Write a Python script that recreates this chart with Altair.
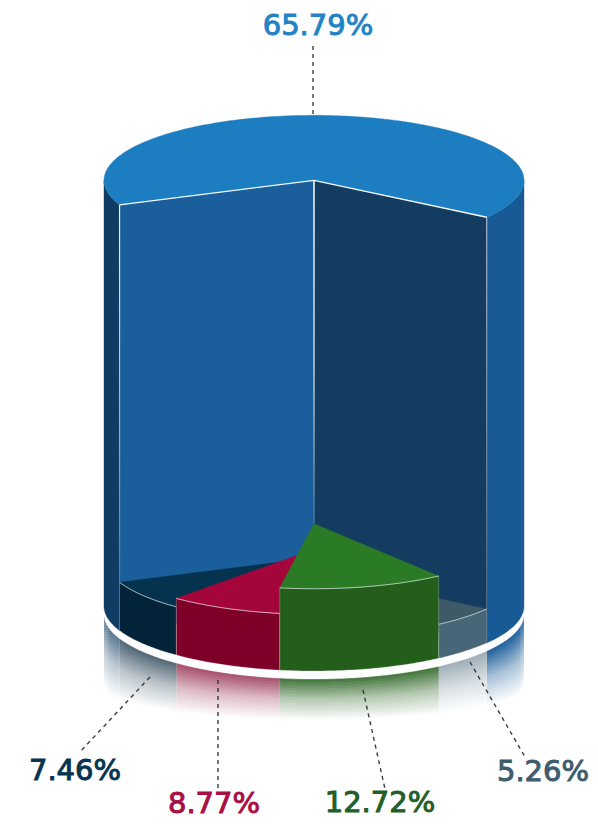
import math
import altair as alt
import pandas as pd

# ---- chart data, clockwise from the tall slice
labels = ["65.79%", "5.26%", "12.72%", "8.77%", "7.46%"]
values = [65.79, 5.26, 12.72, 8.77, 7.46]
top_colors = ["#1c7dc0", "#3f5a67", "#2b7a26", "#a4063c", "#04334f"]
side_colors = ["#175a96", "#476678", "#235e1b", "#7e0029", "#032338"]
text_colors = ["#2383c5", "#3e5c70", "#235e27", "#a80f45", "#053550"]

# ---- annotation layout (picture pixels)
label_x = [318, 543, 380, 214, 75]
label_y = [26, 772, 803, 804, 771]
leader_x0 = [313, 470, 363, 218, 150]
leader_y0 = [114, 662, 690, 680, 677]
leader_x1 = [313, 525, 385, 218, 79]
leader_y1 = [44, 757, 789, 790, 753]

CX, RX, RY, BASE = 314, 210, 65, 606
DEPTH_PER_PCT = 6.47
START = -112.2
DEG_PER_PCT = 3.6
BANDS = 28
X_SCALE = alt.Scale(domain=[8, 590], nice=False, zero=False)
Y_SCALE = alt.Scale(domain=[822, 8], nice=False, zero=False)
XE = alt.X("x:Q", scale=X_SCALE, axis=None)
YE = alt.Y("y:Q", scale=Y_SCALE, axis=None)


def pt(theta, cy):
    r = math.radians(theta)
    return (CX + RX * math.sin(r), cy - RY * math.cos(r))


def arc(a, b, cy):
    n = max(2, int(abs(b - a)) + 1)
    return [pt(a + (b - a) * i / n, cy) for i in range(n + 1)]


def frame(points):
    return pd.DataFrame({"x": [p[0] for p in points], "y": [p[1] for p in points],
                         "i": list(range(len(points)))})


def poly(points, fill, stroke=None, sw=0.4, so=1.0):
    return alt.Chart(frame(points)).mark_line(
        interpolate="linear-closed", fill=fill, stroke=stroke or (fill if isinstance(fill, str) else "#ffffff"),
        strokeWidth=sw if stroke or isinstance(fill, str) else 0, strokeOpacity=so,
    ).encode(x=XE, y=YE, order="i:Q")


def path(points, color, sw, op=1.0, dash=None):
    kw = {"strokeDash": dash} if dash else {}
    return alt.Chart(frame(points)).mark_line(color=color, strokeWidth=sw, opacity=op, **kw).encode(
        x=XE, y=YE, order="i:Q")


def mix(color, t):
    c = [int(color[i:i + 2], 16) for i in (1, 3, 5)]
    return "#%02x%02x%02x" % tuple(round(255 + (v - 255) * t) for v in c)


def vgrad(stops):
    return alt.LinearGradient(gradient="linear", x1=0, y1=0, x2=0, y2=1,
                              stops=[alt.GradientStop(color=c, offset=o) for o, c in stops])


def fade(t):
    return 1 - 1.24 * t if t < 0.5 else 0.76 * (1 - t)


def reflection(a, b, color, strength):
    x0, x1 = sorted((pt(a, 0)[0], pt(b, 0)[0]))
    sub = max(2, int((x1 - x0) / 4))
    rows = []
    for k in range(BANDS):
        col = mix(color, strength * fade((k + 0.5) / BANDS))
        for j in range(sub + 1):
            x = x0 + (x1 - x0) * j / sub
            s = max(-1.0, min(1.0, (x - CX) / RX))
            yc = math.sqrt(1 - s * s) * RY
            ytop = BASE + 8 + yc - 1
            ybot = 687 + yc / RY * 33
            h = (ybot - ytop) / BANDS
            rows.append({"x": x, "y": ytop + h * k, "y2": ytop + h * (k + 1) + 0.6, "c": col, "k": k})
    return alt.Chart(pd.DataFrame(rows)).mark_area(strokeWidth=0).encode(
        x=XE, y=YE, y2="y2:Q", color=alt.Color("c:N", scale=None, legend=None), detail="k:N")


# slice angles
angles = []
a = START
for v in values:
    angles.append((a, a + v * DEG_PER_PCT))
    a += v * DEG_PER_PCT
tops = [BASE - v * DEPTH_PER_PCT for v in values]

layers = []
blue_a, blue_b = angles[0]          # runs through 12 o'clock
top_cy = tops[0]

# reflections under the rim
layers.append(reflection(blue_a, -90, "#0f3c62", 0.72))
layers.append(reflection(90, blue_b, "#175a96", 1.0))
for i in (1, 2, 3, 4):
    strength = {1: 0.55, 2: 0.9, 3: 0.72, 4: 0.72}[i]
    layers.append(reflection(angles[i][0], angles[i][1], side_colors[i], strength))

# white rim
rim = arc(90, 270, BASE) + arc(270, 90, BASE + 8)
layers.append(poly(rim, "#ffffff"))

# blue outer walls
layers.append(poly(arc(-90, blue_a, top_cy) + arc(blue_a, -90, BASE), "#0f3c62"))
layers.append(poly(arc(blue_b, 90, top_cy) + arc(90, blue_b, BASE), "#175a96"))

# blue cut faces
pl_t, pr_t = pt(blue_a, top_cy), pt(blue_b, top_cy)
pl_b, pr_b = pt(blue_a, BASE), pt(blue_b, BASE)
layers.append(poly([(CX, top_cy), pl_t, pl_b, (CX, BASE)], "#1a5f9b"))
layers.append(poly([(CX, top_cy), pr_t, pr_b, (CX, BASE)], "#133c60"))

# bright edges of the cut faces
edge_grad = vgrad([(0, "#f2f5f8"), (0.55, "#b8c4d0"), (1, "#3f6f98")])
layers.append(poly([(CX - 0.8, top_cy), (CX + 0.8, top_cy), (CX + 0.8, tops[2]), (CX - 0.8, tops[2])], edge_grad))
xl = pl_t[0]
layers.append(poly([(xl - 0.6, pl_t[1]), (xl + 0.6, pl_t[1]), (xl + 0.6, tops[4] + 25), (xl - 0.6, tops[4] + 25)],
                   vgrad([(0, "#f2f5f8"), (0.5, "#a9b9c9"), (1, "#4b7aa3")])))
xr = pr_t[0]
layers.append(poly([(xr - 0.5, pr_t[1]), (xr + 0.5, pr_t[1]), (xr + 0.5, tops[1] + 37), (xr - 0.5, tops[1] + 37)],
                   vgrad([(0, "#c8d0d8"), (1, "#55708a")])))

# blue top
layers.append(poly([(CX, top_cy)] + arc(blue_a, blue_b, top_cy), top_colors[0]))
layers.append(path([pl_t, (CX, top_cy), pr_t], "#f4f7fa", 1.4))

# short slices, back to front
for i in (4, 1, 3, 2):
    a0, a1 = angles[i]
    cy = tops[i]
    layers.append(poly(arc(a0, a1, cy) + arc(a1, a0, BASE), side_colors[i], "#ffffff", 0.7, 0.35))
    layers.append(poly([(CX, cy)] + arc(a0, a1, cy), top_colors[i]))
    layers.append(path(arc(a0, a1, cy), "#ffffff", 1.0, 0.6))

# leaders
for x0, y0, x1, y1 in zip(leader_x0, leader_y0, leader_x1, leader_y1):
    layers.append(path([(x0, y0), (x1, y1)], "#333333", 1.4, 0.95, [4, 4]))

# labels
text_df = pd.DataFrame({"x": label_x, "y": label_y, "t": labels, "c": text_colors})
for _, r in text_df.iterrows():
    layers.append(alt.Chart(pd.DataFrame([r])).mark_text(
        font="DejaVu Sans", fontSize=29, align="center", baseline="middle",
        color=r["c"], stroke=r["c"], strokeWidth=1.0,
    ).encode(x=XE, y=YE, text="t:N"))

chart = alt.layer(*layers).properties(
    width=582, height=814, padding=0, autosize=alt.AutoSizeParams(type="none")
).configure_view(stroke=None)
chart.save("out.html", embed_options={"renderer": "svg", "actions": False})
